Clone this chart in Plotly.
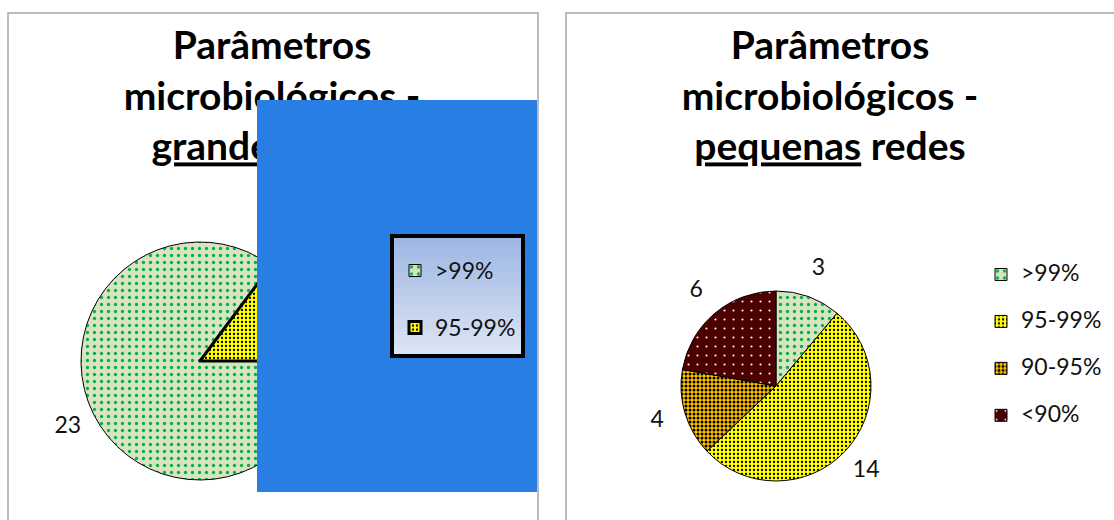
import math
import plotly.graph_objects as go

# Microbiological compliance results, counts per compliance band
categories_grandes = [">99%", "95-99%"]
values_grandes = [23, 4]

categories_pequenas = [">99%", "95-99%", "90-95%", "<90%"]
values_pequenas = [3, 14, 4, 6]

title_grandes = "<b>Parâmetros<br>microbiológicos -<br><u>grandes</u> redes</b>"
title_pequenas = "<b>Parâmetros<br>microbiológicos -<br><u>pequenas</u> redes</b>"

# Fill styles per band: background colour, dot colour, dot tile size, dot solidity
band_style = {
    ">99%":   dict(bg="#d7e4bd", fg="#00b050", size=7, solidity=0.17),
    "95-99%": dict(bg="#ffff00", fg="#000000", size=4, solidity=0.25),
    "90-95%": dict(bg="#ffc000", fg="#000000", size=4, solidity=0.45),
    "<90%":   dict(bg="#4d0000", fg="#ffffff", size=9, solidity=0.045),
}

W, H = 1114, 520
FONT = "Lato"
TEXT_PX = 23


def pie_domain(cx, cy, r):
    return dict(x=[(cx - r) / W, (cx + r) / W], y=[(H - cy - r) / H, (H - cy + r) / H])


def label_points(values, rotation, cx, cy, r, offset):
    total = sum(values)
    xs, ys = [], []
    start = rotation
    for v in values:
        mid = math.radians(start + 180.0 * v / total)
        xs.append(cx + (r + offset) * math.sin(mid))
        ys.append(cy - (r + offset) * math.cos(mid))
        start += 360.0 * v / total
    return xs, ys


def make_pie(cats, vals, cx, cy, r, rotation, legend_id, line_widths, css):
    st = [band_style[c] for c in cats]
    # legend entry: text at 23px plus an empty second line that sets the row pitch
    labels = [f"<span style='{css}'>{c}</span><br> " for c in cats]
    return go.Pie(
        labels=labels,
        values=vals,
        sort=False,
        direction="clockwise",
        rotation=rotation,
        textinfo="none",
        hoverinfo="value",
        domain=pie_domain(cx, cy, r),
        legend=legend_id,
        marker=dict(
            colors=[s["bg"] for s in st],
            line=dict(color="black", width=line_widths),
            pattern=dict(
                shape=["."] * len(cats),
                fgcolor=[s["fg"] for s in st],
                bgcolor=[s["bg"] for s in st],
                size=[s["size"] for s in st],
                solidity=[s["solidity"] for s in st],
                fillmode="replace",
            ),
        ),
    )


fig = go.Figure()

# value labels and titles live in the cartesian layer (pixel coordinates)
LCX, LCY, LR = 200, 361, 119
RCX, RCY, RR = 776, 386, 95

lx, ly = label_points(values_grandes, 90, LCX, LCY, LR, 29)
rx, ry = label_points(values_pequenas, 0, RCX, RCY, RR, 29)

fig.add_trace(go.Scatter(
    x=lx + rx, y=ly + ry, mode="text",
    text=[str(v) for v in values_grandes + values_pequenas],
    textposition="middle center",
    textfont=dict(family=FONT, size=TEXT_PX, color="#111111"),
    hoverinfo="skip", showlegend=False,
))
fig.add_trace(go.Scatter(
    x=[272, 830], y=[100, 100], mode="text",
    text=[title_grandes, title_pequenas],
    textposition="middle center",
    textfont=dict(family=FONT, size=39, color="black"),
    hoverinfo="skip", showlegend=False,
))

fig.add_trace(make_pie(categories_grandes, values_grandes, LCX, LCY, LR, 90, "legend", [1, 3],
                       f"font-size:{TEXT_PX}px"))
fig.add_trace(make_pie(categories_pequenas, values_pequenas, RCX, RCY, RR, 0, "legend2", 1,
                       f"font-size: {TEXT_PX}px"))

shapes = [
    # chart area borders
    dict(type="rect", xref="x", yref="y", x0=8, y0=13, x1=538, y1=540,
         line=dict(color="#a6a6a6", width=1.5), fillcolor="rgba(0,0,0,0)", layer="below"),
    dict(type="rect", xref="x", yref="y", x0=566, y0=13, x1=1130, y1=540,
         line=dict(color="#a6a6a6", width=1.5), fillcolor="rgba(0,0,0,0)", layer="below"),
    # blue panel
    dict(type="rect", xref="x", yref="y", x0=257, y0=100, x1=537, y1=492,
         line=dict(width=0), fillcolor="#287ee3", layer="above"),
]

# gradient background of the framed legend box
bx0, by0, bx1, by1 = 392, 236, 523, 356
top_rgb, bot_rgb = (157, 182, 227), (221, 229, 245)
steps = 40
for i in range(steps):
    t = i / (steps - 1)
    c = tuple(round(a + (b - a) * t) for a, b in zip(top_rgb, bot_rgb))
    ya = by0 + (by1 - by0) * i / steps
    yb = by0 + (by1 - by0) * (i + 1) / steps + 0.6
    shapes.append(dict(type="rect", xref="x", yref="y", x0=bx0, x1=bx1, y0=ya, y1=yb,
                       line=dict(width=0), fillcolor=f"rgb{c}", layer="above"))
shapes.append(dict(type="rect", xref="x", yref="y", x0=bx0, y0=by0, x1=bx1, y1=by1,
                   line=dict(color="black", width=4), fillcolor="rgba(0,0,0,0)", layer="above"))

fig.update_layout(
    width=W, height=H,
    margin=dict(l=0, r=0, t=0, b=0),
    paper_bgcolor="white",
    plot_bgcolor="rgba(0,0,0,0)",
    xaxis=dict(range=[0, W], visible=False, fixedrange=True, domain=[0, 1]),
    yaxis=dict(range=[H, 0], visible=False, fixedrange=True, domain=[0, 1]),
    shapes=shapes,
    legend=dict(
        x=395 / W, y=1 - 250.5 / H, xanchor="left", yanchor="top", valign="top",
        bgcolor="rgba(0,0,0,0)", borderwidth=0,
        font=dict(family=FONT, size=20.8, color="#111111"),
    ),
    legend2=dict(
        x=981 / W, y=1 - 257 / H, xanchor="left", yanchor="top", valign="top",
        bgcolor="rgba(0,0,0,0)", borderwidth=0,
        font=dict(family=FONT, size=16.9, color="#111111"),
    ),
)

fig.write_html("out.html")
